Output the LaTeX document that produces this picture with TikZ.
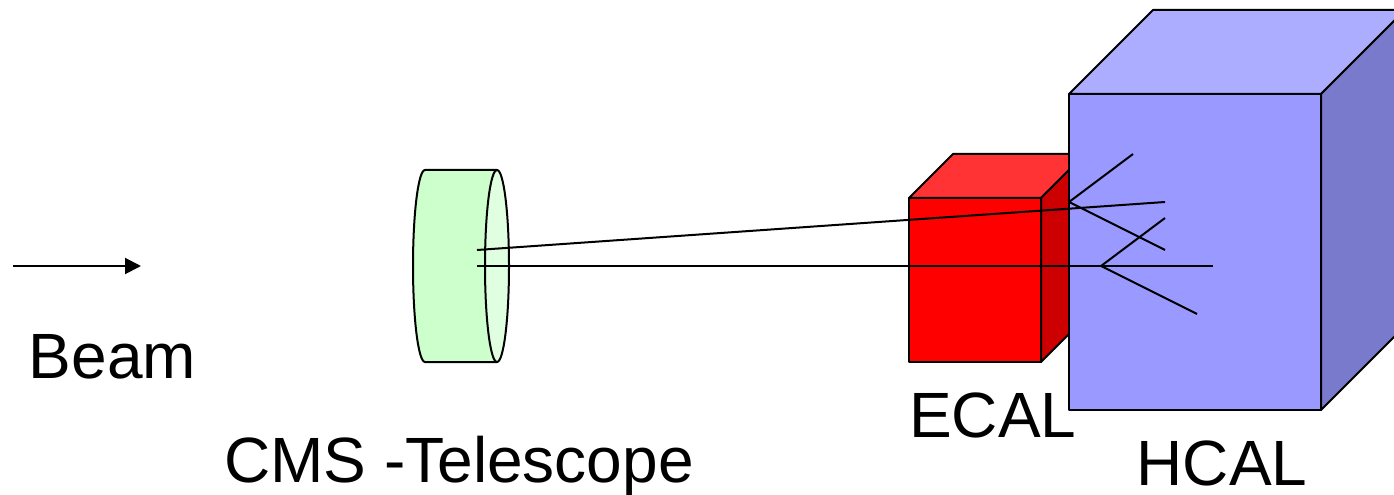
\documentclass[tikz,border=0pt]{standalone}
\usepackage{fontspec}
\setmainfont{Liberation Sans}
\usetikzlibrary{arrows.meta}
\definecolor{hfront}{HTML}{9999FF}
\definecolor{htop}{HTML}{ADADFF}
\definecolor{hside}{HTML}{7A7ACC}
\definecolor{efront}{HTML}{FF0000}
\definecolor{etop}{HTML}{FF3333}
\definecolor{eside}{HTML}{CC0000}
\definecolor{cylbody}{HTML}{CCFFCC}
\definecolor{cylface}{HTML}{E0FFE0}
\tikzset{
  outline/.style={draw=black,line width=1.5pt,line join=round},
  ray/.style={draw=black,line width=1.5pt},
  lab/.style={anchor=base west,inner sep=0pt,font=\fontsize{48pt}{48pt}\selectfont},
  beamarrow/.style={ray,-{Triangle[length=12pt,width=12pt]}}
}
\begin{document}
\begin{tikzpicture}[x=0.75pt,y=-0.75pt]
\useasboundingbox (0,0) rectangle (1394,495);
\begin{scope}
\clip (0,0) rectangle (1394,495);
% coordinates
\coordinate (arrowA) at (13,266);
\coordinate (arrowB) at (141,266);
\coordinate (r1a) at (477,250);
\coordinate (r1b) at (1165,202);
\coordinate (r2a) at (477,266);
\coordinate (r2b) at (1213,266);
\coordinate (s1) at (1069,202);
\coordinate (s1a) at (1133,154);
\coordinate (s1b) at (1165,250);
\coordinate (s2) at (1101,266);
\coordinate (s2a) at (1165,218);
\coordinate (s2b) at (1197,314);
% cylinder
\path[outline,fill=cylbody] (497,170) -- (425,170)
  arc[start angle=270,end angle=90,x radius=12,y radius=96]
  -- (497,362) -- cycle;
\path[outline,fill=cylface] (497,266) ellipse[x radius=12,y radius=96];
% ECAL
\path[outline,fill=etop] (909,198) -- (953,154) -- (1085,154) -- (1041,198) -- cycle;
\path[outline,fill=eside] (1041,198) -- (1085,154) -- (1085,318) -- (1041,362) -- cycle;
\path[outline,fill=efront] (909,198) rectangle (1041,362);
% HCAL
\path[outline,fill=htop] (1069,94) -- (1153,10) -- (1405,10) -- (1321,94) -- cycle;
\path[outline,fill=hside] (1321,94) -- (1405,10) -- (1405,326) -- (1321,410) -- cycle;
\path[outline,fill=hfront] (1069,94) rectangle (1321,410);
% rays
\draw[ray] (r1a) -- (r1b);
\draw[ray] (r2a) -- (r2b);
\draw[ray] (s1) -- (s1a);
\draw[ray] (s1) -- (s1b);
\draw[ray] (s2) -- (s2a);
\draw[ray] (s2) -- (s2b);
\draw[beamarrow] (arrowA) -- (arrowB);
\end{scope}
\node[lab] (beam) at (28.5,378) {Beam};
\node[lab] (cms) at (224,482) {CMS -Telescope};
\node[lab] (ecal) at (909,437.5) {ECAL};
\node[lab] (hcal) at (1136.5,485.5) {HCAL};
\end{tikzpicture}
\end{document}
